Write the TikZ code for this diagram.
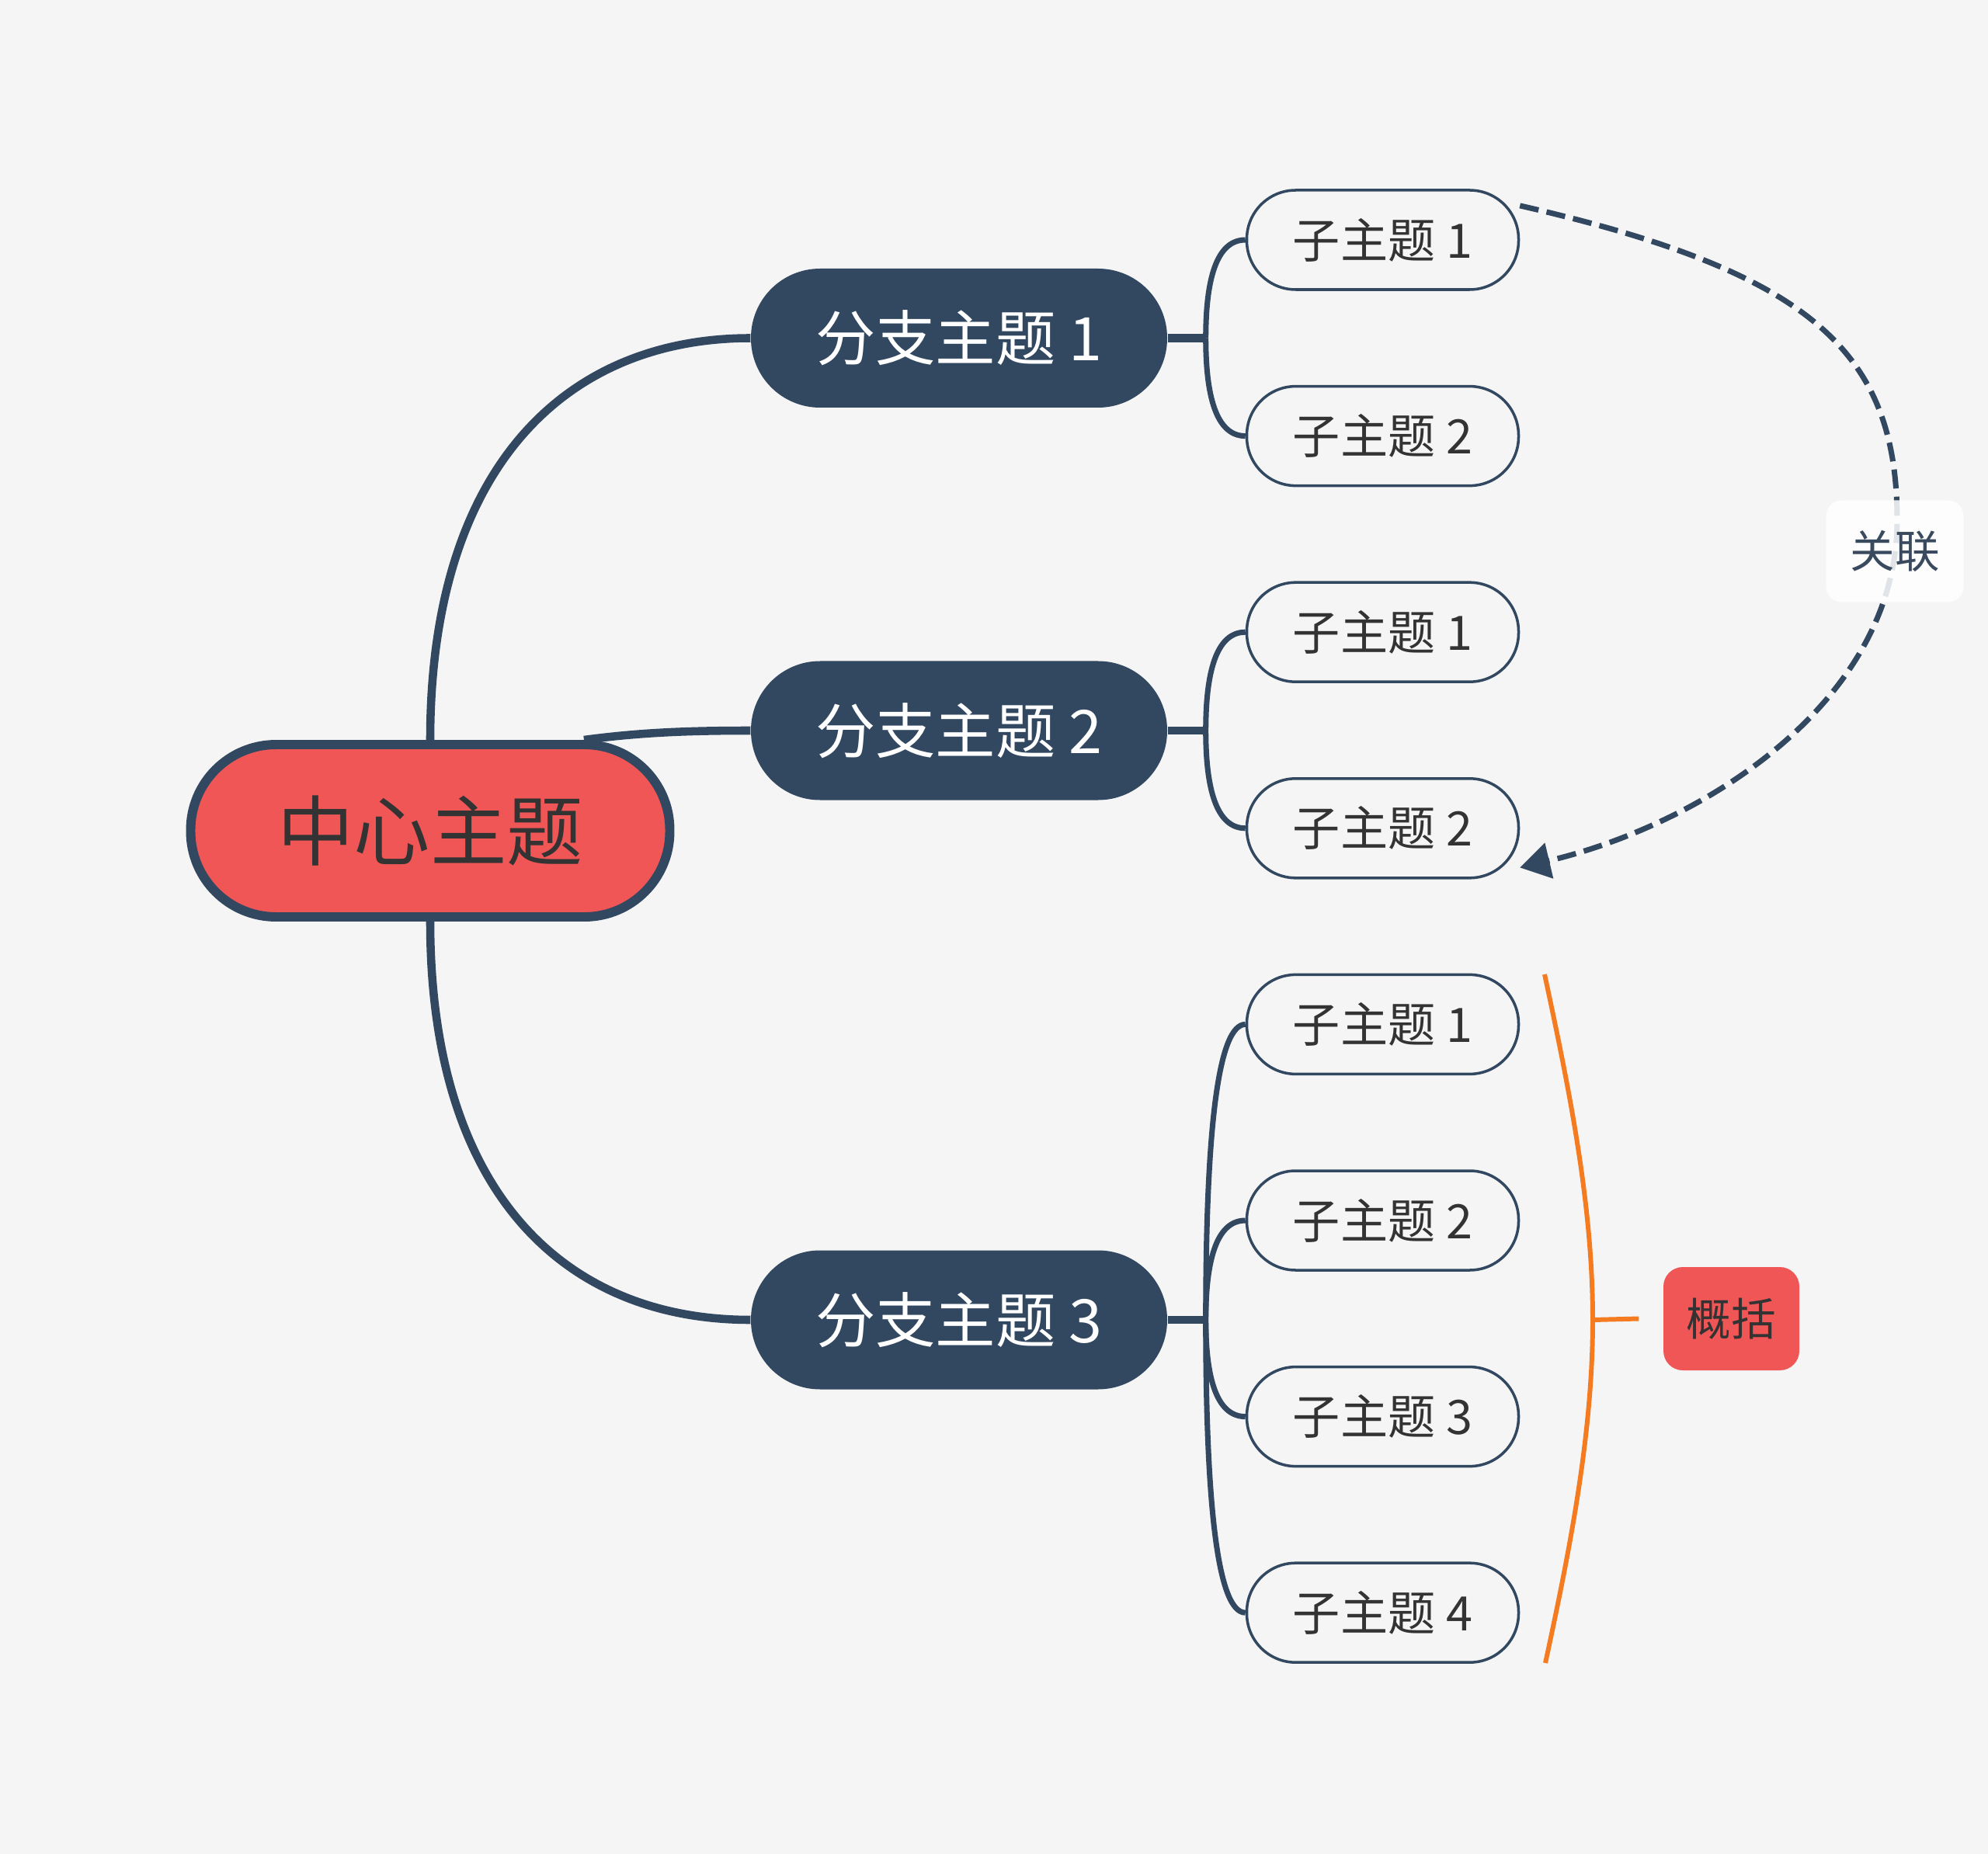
\documentclass[tikz,border=0pt]{standalone}
\usepackage{fontspec}
\setmainfont{Noto Sans CJK SC}
\usepackage{xcolor}
\usepackage{tikz}
\usetikzlibrary{shapes,arrows.meta,positioning,calc}
\definecolor{navy}{HTML}{324860}
\definecolor{topicred}{HTML}{F05656}
\definecolor{bgray}{HTML}{F5F5F5}
\definecolor{textdark}{HTML}{333333}
\definecolor{relgray}{HTML}{3A4A5E}
\definecolor{sumorange}{HTML}{F47B20}

\begin{document}
\begin{tikzpicture}[node distance=2.526cm,
  centerbox/.style={rectangle, draw=navy, line width=3.4pt, fill=topicred, minimum width=6.17cm, minimum height=2.22cm, rounded corners=1.10cm, text=textdark, font=\fontsize{28pt}{32pt}\selectfont},
  branchbox/.style={rectangle, fill=navy, minimum width=5.36cm, minimum height=1.79cm, rounded corners=0.89cm, text=white, font=\fontsize{22pt}{26pt}\selectfont},
  subtopic/.style={rectangle, draw=navy, line width=1pt, fill=bgray, minimum width=3.50cm, minimum height=1.28cm, rounded corners=0.63cm, text=textdark, font=\fontsize{17.4pt}{20pt}\selectfont},
  rellabel/.style={rectangle, fill=white, fill opacity=0.85, text opacity=1, rounded corners=0.2cm, minimum width=1.77cm, minimum height=1.31cm, text=relgray, font=\fontsize{16.4pt}{19pt}\selectfont},
  sumbox/.style={rectangle, fill=topicred, rounded corners=0.25cm, minimum width=1.75cm, minimum height=1.33cm, text=textdark, font=\fontsize{16.4pt}{19pt}\selectfont},
  mainline/.style={draw=navy, line width=3pt},
  subline/.style={draw=navy, line width=2pt},
  relline/.style={draw=navy, line width=2pt, dash pattern=on 7pt off 3pt, -{Triangle[length=11pt,width=13pt]}},
  brace/.style={draw=sumorange, line width=1.7pt}]
\path[use as bounding box, fill=bgray] (0,0) rectangle (25.60,-23.88);

% topics
\node[centerbox] (c) at (5.54,-10.70) {中心主题};
\node[branchbox] (b1) at (12.35,-4.355) {分支主题 1};
\node[branchbox] (b2) at (12.35,-9.41) {分支主题 2};
\node[branchbox] (b3) at (12.35,-17.00) {分支主题 3};

% subtopics
\node[subtopic] (s11) at (17.805,-3.09) {子主题 1};
\node[subtopic, below of=s11] (s12) {子主题 2};
\node[subtopic, below of=s12] (s21) {子主题 1};
\node[subtopic, below of=s21] (s22) {子主题 2};
\node[subtopic, below of=s22] (s31) {子主题 1};
\node[subtopic, below of=s31] (s32) {子主题 2};
\node[subtopic, below of=s32] (s33) {子主题 3};
\node[subtopic, below of=s33] (s34) {子主题 4};

% center to branches
\draw[mainline] (c.north) .. controls (5.54,-6.00) and (7.30,-4.355) .. (b1.west);
\draw[mainline] ([xshift=1.98cm]c.north) .. controls (8.20,-9.44) and (8.80,-9.41) .. (b2.west);
\draw[mainline] (c.south) .. controls (5.54,-15.40) and (7.30,-17.00) .. (b3.west);

% branches to subtopics
\coordinate (j1) at ($(b1.east)+(0.49,0)$);
\coordinate (j2) at ($(b2.east)+(0.49,0)$);
\coordinate (j3) at ($(b3.east)+(0.49,0)$);
\draw[mainline] (b1.east) -- (j1);
\draw[mainline] (b2.east) -- (j2);
\draw[mainline] (b3.east) -- (j3);
\foreach \j/\s in {j1/s11, j1/s12, j2/s21, j2/s22, j3/s31, j3/s32, j3/s33, j3/s34}
  \draw[subline] (\j) .. controls ($(\j)!0.667!(\j |- \s.west)$) and ($(\s.west)!0.667!(\j |- \s.west)$) .. (\s.west);

% relation
\coordinate (relmid) at (24.43,-6.70);
\draw[relline] (s11.14) .. controls (23.30,-3.50) and (24.43,-4.52) .. (relmid) .. controls (24.43,-9.00) and (22.00,-10.60) .. (s22.-16);
\node[rellabel] (rel) at (24.40,-7.10) {关联};

% summary
\coordinate (bt) at (19.89,-12.55);
\coordinate (bm) at (20.51,-17.00);
\coordinate (bb) at (19.90,-21.42);
\draw[brace] (bt) .. controls (20.20,-14.00) and (20.51,-15.50) .. (bm) .. controls (20.51,-18.48) and (20.21,-19.98) .. (bb);
\node[sumbox] (sum) at (22.295,-16.985) {概括};
\draw[brace] (bm) -- ([xshift=-0.31cm]sum.west);
\end{tikzpicture}
\end{document}
